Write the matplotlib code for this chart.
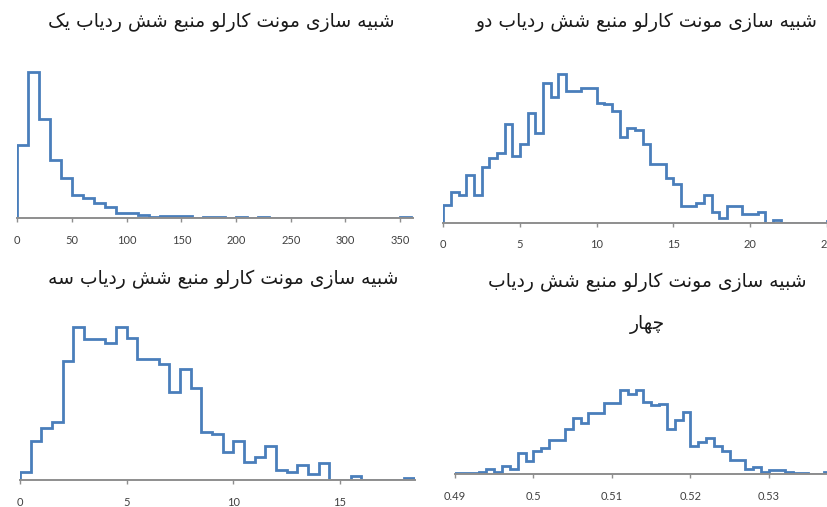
import numpy as np
import matplotlib
matplotlib.use("Agg")
import matplotlib.pyplot as plt

plt.rcParams["font.family"] = ["Lato", "DejaVu Sans"]

W, H = 827, 507

# عنوان‌ها
TITLES = [
    "شبیه سازی مونت کارلو منبع شش ردیاب یک",
    "شبیه سازی مونت کارلو منبع شش ردیاب دو",
    "شبیه سازی مونت کارلو منبع شش ردیاب سه",
    "شبیه سازی مونت کارلو منبع شش ردیاب\nچهار",
]

# ردیاب یک: بازه‌های 10 تایی از صفر
bins1_start, bins1_width = 0, 10
freq1 = [218, 438, 298, 175, 121, 70, 61, 46, 32, 16, 16, 10, 2, 5, 5, 5,
         0, 2, 2, 0, 2, 0, 2, 0, 0, 0, 0, 0, 0, 0, 0, 0, 0, 0, 0, 3]

# ردیاب دو: بازه‌های 0.5
bins2_start, bins2_width = 0, 0.5
freq2 = [52, 93, 84, 143, 84, 166, 193, 208, 295, 201, 235, 328, 268, 418,
         376, 445, 395, 395, 403, 403, 360, 355, 335, 258, 285, 278, 235,
         175, 175, 135, 116, 51, 51, 58, 84, 33, 15, 51, 51, 25, 25, 33, 0,
         7, 0, 0, 0, 0, 0, 0, 5]

# ردیاب سه: بازه‌های 0.5
bins3_start, bins3_width = 0, 0.5
freq3 = [23, 118, 157, 175, 358, 460, 422, 422, 410, 460, 427, 364, 364,
         348, 265, 332, 276, 145, 137, 85, 118, 55, 68, 102, 30, 23, 45, 17,
         50, 0, 0, 12, 0, 0, 0, 0, 6]

# ردیاب چهار: بازه‌های 0.001 از 0.49
bins4_start, bins4_width = 0.49, 0.001
freq4 = [3, 3, 3, 8, 16, 8, 25, 17, 63, 41, 70, 78, 103, 103, 136, 168, 153,
         185, 185, 215, 215, 253, 241, 253, 216, 208, 210, 135, 163, 186, 85,
         98, 108, 85, 71, 43, 43, 16, 22, 7, 13, 13, 7, 4, 4, 0, 0, 6]

xticks1 = [0, 50, 100, 150, 200, 250, 300, 350]
xticks2 = [0, 5, 10, 15, 20, 25]
xticks3 = [0, 5, 10, 15]
xticks4 = [0.49, 0.50, 0.51, 0.52, 0.53]

# شکل‌های نمایشی حروف: (تنها، پایانی، آغازی، میانی)
FORMS = {
    "ا": ("\uFE8D", "\uFE8E", None, None),
    "د": ("\uFEA9", "\uFEAA", None, None),
    "ر": ("\uFEAD", "\uFEAE", None, None),
    "ز": ("\uFEAF", "\uFEB0", None, None),
    "و": ("\uFEED", "\uFEEE", None, None),
    "ب": ("\uFE8F", "\uFE90", "\uFE91", "\uFE92"),
    "ت": ("\uFE95", "\uFE96", "\uFE97", "\uFE98"),
    "چ": ("\uFB7A", "\uFB7B", "\uFB7C", "\uFB7D"),
    "س": ("\uFEB1", "\uFEB2", "\uFEB3", "\uFEB4"),
    "ش": ("\uFEB5", "\uFEB6", "\uFEB7", "\uFEB8"),
    "ع": ("\uFEC9", "\uFECA", "\uFECB", "\uFECC"),
    "ک": ("\uFB8E", "\uFB8F", "\uFB90", "\uFB91"),
    "ل": ("\uFEDD", "\uFEDE", "\uFEDF", "\uFEE0"),
    "م": ("\uFEE1", "\uFEE2", "\uFEE3", "\uFEE4"),
    "ن": ("\uFEE5", "\uFEE6", "\uFEE7", "\uFEE8"),
    "ه": ("\uFEE9", "\uFEEA", "\uFEEB", "\uFEEC"),
    "ی": ("\uFBFC", "\uFBFD", "\uFBFE", "\uFBFF"),
}


def shape(line):
    # matplotlib حروف را به هم نمی‌چسباند، پس خودمان شکل حرف و ترتیب راست‌به‌چپ را می‌سازیم
    out = []
    for i, ch in enumerate(line):
        if ch not in FORMS:
            out.append(ch)
            continue
        prev = line[i - 1] if i > 0 else ""
        nxt = line[i + 1] if i + 1 < len(line) else ""
        join_prev = prev in FORMS and FORMS[prev][2] is not None
        join_next = FORMS[ch][2] is not None and nxt in FORMS
        iso, fin, ini, med = FORMS[ch]
        if join_prev and join_next:
            out.append(med)
        elif join_prev:
            out.append(fin)
        elif join_next:
            out.append(ini)
        else:
            out.append(iso)
    return "".join(reversed(out))


def px_axes(fig, left, right, baseline, top):
    return fig.add_axes([left / W, (H - baseline) / H,
                         (right - left) / W, (baseline - top) / H])


fig = plt.figure(figsize=(W / 100, H / 100), dpi=100)

panels = [
    # (start, width, freq, ticks, xlim, left, right, baseline, top, ymax)
    (bins1_start, bins1_width, freq1, xticks1, (0, 362), 17.3, 413.3, 218, 55, 489),
    (bins2_start, bins2_width, freq2, xticks2, (0, 26), 443.3, 842, 222.7, 55, 503),
    (bins3_start, bins3_width, freq3, xticks3, (0, 18.5), 20, 414.6, 480, 310, 510),
    (bins4_start, bins4_width, freq4, xticks4, (0.49, 0.54), 455, 847.5, 474.3, 360, 343),
]

for start, width, freq, ticks, xlim, l, r, b, t, ymax in panels:
    ax = px_axes(fig, l, r, b, t)
    edges = start + width * np.arange(len(freq) + 1)
    ax.stairs(freq, edges, color="#4a7ebb", linewidth=2, zorder=2,
              joinstyle="miter")
    ax.set_xlim(*xlim)
    ax.set_ylim(0, ymax)
    for side in ("top", "right", "left"):
        ax.spines[side].set_visible(False)
    ax.spines["bottom"].set_color("#8e8e8e")
    ax.spines["bottom"].set_linewidth(1.4)
    ax.set_yticks([])
    ax.set_xticks(ticks, [f"{v:g}" for v in ticks])
    ax.tick_params(axis="x", direction="out", length=3, width=1,
                   color="#8e8e8e", labelsize=8, labelcolor="#404040", pad=9)
    ax.patch.set_alpha(0)

# عنوان‌ها (مرکز بر حسب پیکسل)
title_pos = [(221, 22), (647, 22), (223, 279), (647, 282)]
for (x, y), title in zip(title_pos, TITLES):
    lines = title.split("\n")
    fig.text(x / W, 1 - y / H, shape(lines[0]), ha="center", va="center",
             fontsize=13.5, color="#1a1a1a", family=["DejaVu Sans"])
    if len(lines) > 1:
        fig.text(x / W, 1 - 325 / H, shape(lines[1]), ha="center", va="center",
                 fontsize=13.5, color="#1a1a1a", family=["DejaVu Sans"])

fig.savefig("out.png", dpi=100)
